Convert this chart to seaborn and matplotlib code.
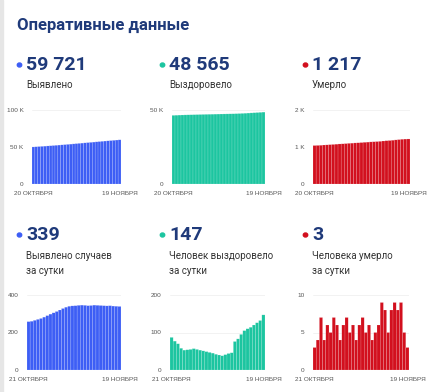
import matplotlib
matplotlib.use("Agg")
import matplotlib.pyplot as plt
import seaborn as sns
import numpy as np
import pandas as pd

# ---------------- data ----------------
title = "Оперативные данные"

total_detected = [50092, 50350, 50610, 50875, 51145, 51420, 51702, 51992, 52290, 52595, 52907,
                  53227, 53555, 53890, 54230, 54572, 54915, 55260, 55606, 55951, 56294, 56638,
                  56984, 57329, 57673, 58016, 58358, 58701, 59042, 59382, 59721]
total_recovered = [46395, 46482, 46559, 46629, 46687, 46740, 46794, 46849, 46906, 46961, 47014,
                   47065, 47114, 47161, 47206, 47248, 47288, 47326, 47367, 47411, 47457, 47533,
                   47616, 47711, 47816, 47926, 48040, 48160, 48286, 48418, 48565]
total_deaths = [1040, 1043, 1047, 1054, 1058, 1064, 1069, 1076, 1082, 1086, 1092, 1099, 1104,
                1110, 1114, 1120, 1127, 1132, 1138, 1142, 1147, 1153, 1162, 1170, 1175, 1183,
                1192, 1200, 1209, 1214, 1217]

daily_detected = [258, 260, 265, 270, 275, 282, 290, 298, 305, 312, 320, 328, 335, 340, 342,
                  343, 345, 346, 345, 343, 344, 346, 345, 344, 343, 342, 343, 341, 340, 339]
daily_recovered = [87, 77, 70, 58, 53, 54, 55, 57, 55, 53, 51, 49, 47, 45, 42, 40, 38, 41, 44,
                   46, 76, 83, 95, 105, 110, 114, 120, 126, 132, 147]
daily_deaths = [3, 4, 7, 4, 6, 5, 7, 6, 4, 6, 7, 5, 6, 4, 6, 7, 5, 6, 4, 5, 6, 9, 8, 5, 8, 9,
                8, 9, 5, 3]

top_numbers = ["59 721", "48 565", "1 217"]
top_labels = [["Выявлено"], ["Выздоровело"], ["Умерло"]]
bottom_numbers = ["339", "147", "3"]
bottom_labels = [["Выявлено случаев", "за сутки"], ["Человек выздоровело", "за сутки"],
                 ["Человека умерло", "за сутки"]]

top_xlabels = ["20 ОКТЯБРЯ", "19 НОЯБРЯ"]
bottom_xlabels = ["21 ОКТЯБРЯ", "19 НОЯБРЯ"]

top_yticks = [[0, 50000, 100000], [0, 50000], [0, 1000, 2000]]
top_yticklabels = [["0", "50 K", "100 K"], ["0", "50 K"], ["0", "1 K", "2 K"]]
top_ylim = [100000, 50000, 2000]
bottom_yticks = [[0, 200, 400], [0, 100, 200], [0, 5, 10]]
bottom_yticklabels = [["0", "200", "400"], ["0", "100", "200"], ["0", "5", "10"]]
bottom_ylim = [400, 200, 10]

colors = ["#3d5ef5", "#1cc5a0", "#d2101e"]
navy = "#1f3a7a"

# ---------------- figure ----------------
W, H = 430, 392
sns.set_theme(style="white")
plt.rcParams["font.family"] = ["Roboto", "DejaVu Sans"]
fig = plt.figure(figsize=(W / 100, H / 100), dpi=100)
fig.patch.set_facecolor("white")

def px_axes(l, t, r, b):
    return fig.add_axes([l / W, 1 - b / H, (r - l) / W, (b - t) / H])

# left light border
fig.patches.append(plt.Rectangle((0, 0), 2.5 / W, 1, transform=fig.transFigure,
                                 color="#e6e6e6", zorder=0))

fig.text(17 / W, 1 - 25 / H, title, fontsize=12, fontweight="bold", color=navy,
         va="center", ha="left")

col_text_x = [26, 169, 312]
top_axes_box = [(32, 110, 121), (172, 110, 265), (313, 110, 410)]
bot_axes_box = [(27, 295, 121), (170, 295, 265), (313, 295, 409)]

tick_font = ["Liberation Sans", "DejaVu Sans"]

def draw_header(i, y_num, y_lab, number, labels):
    x = col_text_x[i]
    fig.patches.append(plt.Circle(((x - 6.5) / W, 1 - y_num / H), 2.2 / W,
                                  transform=fig.transFigure, color=colors[i]))
    fig.text(x / W, 1 - y_num / H, number, fontsize=14, fontweight="bold", color=navy,
             va="center", ha="left")
    for k, lab in enumerate(labels):
        fig.text(x / W, 1 - (y_lab + k * 15.5) / H, lab, fontsize=7, color="#333333",
                 va="center", ha="left")

def draw_bars(box, top, bottom, values, color, yticks, yticklabels, ylim, xlabels):
    l, t, r = box
    ax = px_axes(l, t, r, bottom)
    df = pd.DataFrame({"day": np.arange(len(values)), "value": values})
    sns.barplot(data=df, x="day", y="value", color=color, saturation=1, width=1.0,
                edgecolor=(1, 1, 1, 0.35), linewidth=0.3, ax=ax, zorder=3)
    for p in ax.patches:
        p.set_snap(False)
    ax.set_ylim(0, ylim)
    ax.set_xlim(-0.5, len(values) - 0.5)
    ax.set_yticks(yticks)
    ax.set_yticklabels(yticklabels, family=tick_font)
    ax.set_xticks([0, len(values) - 1])
    ax.set_xticklabels(xlabels, family=tick_font)
    ax.tick_params(axis="both", length=0, labelsize=4.6, labelcolor="#555555")
    ax.tick_params(axis="y", pad=6)
    ax.tick_params(axis="x", pad=5)
    ax.set_xlabel("")
    ax.set_ylabel("")
    for s in ax.spines.values():
        s.set_visible(False)
    ax.set_facecolor("none")
    ax.yaxis.grid(True, color="#f0f0f0", linewidth=0.6, zorder=0)
    ax.set_axisbelow(True)
    return ax

tops = [total_detected, total_recovered, total_deaths]
dailies = [daily_detected, daily_recovered, daily_deaths]

for i in range(3):
    draw_header(i, 65, 85, top_numbers[i], top_labels[i])
    draw_bars(top_axes_box[i], 110, 184, tops[i], colors[i], top_yticks[i],
              top_yticklabels[i], top_ylim[i], top_xlabels)
    draw_header(i, 235, 256, bottom_numbers[i], bottom_labels[i])
    draw_bars(bot_axes_box[i], 295, 370, dailies[i], colors[i], bottom_yticks[i],
              bottom_yticklabels[i], bottom_ylim[i], bottom_xlabels)

fig.savefig("out.png", dpi=100, facecolor="white")
